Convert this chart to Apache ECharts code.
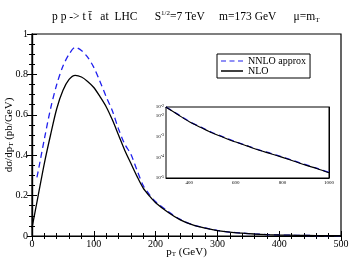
<!DOCTYPE html>
<html><head><meta charset="utf-8">
<script src="https://cdn.jsdelivr.net/npm/echarts@6/dist/echarts.min.js"></script>
<style>html,body{margin:0;padding:0;background:#fff}#c{width:349px;height:262px}</style>
</head><body><div id="c"></div>
<script>
var ptNLO = [0,10,20,30,40,50,60,70,80,90,100,110,120,130,140,150,160,170,180,190,200,220,240,260,280,300,320,340,360,380,400,430,460,500];
var nlo = [0.04,0.2,0.36,0.5,0.63,0.72,0.775,0.795,0.787,0.765,0.735,0.69,0.64,0.575,0.5,0.425,0.36,0.295,0.237,0.198,0.165,0.118,0.08,0.055,0.039,0.027,0.019,0.014,0.01,0.007,0.005,0.003,0.002,0.0012];
var ptNNLO = [8,10,20,30,40,50,60,70,80,90,100,110,120,130,140,150,160,170,180,190,200,220,240,260,280,300,320,340,360,380,400,430,460,500];
var nnlo = [0.29,0.32,0.48,0.63,0.75,0.84,0.9,0.934,0.918,0.885,0.835,0.765,0.69,0.62,0.53,0.455,0.405,0.325,0.25,0.205,0.17,0.122,0.082,0.056,0.04,0.028,0.0195,0.0142,0.0102,0.0072,0.0052,0.0031,0.0021,0.0013];
var ptInset = [300,350,400,450,500,550,600,650,700,750,800,850,900,950,1000];
var nloInset = [0.027,0.012,0.0053,0.0028,0.0015,0.0009,0.00055,0.00035,0.00022,0.00015,0.0001,0.000065,0.000042,0.000028,0.000018];
var nnloInset = [0.0275,0.0124,0.0055,0.0029,0.00156,0.00094,0.00057,0.000365,0.00023,0.000157,0.000104,0.000068,0.000044,0.000029,0.0000187];

function zip(a,b){return a.map(function(v,i){return [v,b[i]];});}
var serif = '"Liberation Serif","DejaVu Serif",serif';
var chart = echarts.init(document.getElementById('c'), null, {renderer:'canvas'});
var tickIn = {inside:true, length:5, lineStyle:{color:'#000',width:1}};
var minorIn = function(n){return {show:true, splitNumber:n, length:3, lineStyle:{color:'#000',width:1}};};
var axLine = {show:true, lineStyle:{color:'#000',width:1.2}};
var rt = {fontFamily:serif,color:'#000',fontWeight:'normal'};
function st(o){var r={};for(var k in rt)r[k]=rt[k];for(var k2 in o)r[k2]=o[k2];return r;}
chart.setOption({
  animation:false,
  backgroundColor:'#fff',
  title:{
    text:'{a|p p -> t t\u0304   at  LHC      S}{sup|1/2}{a|=7 TeV     m=173 GeV      \u03bc=m}{sub|T}',
    left:47, top:5,
    textStyle:{fontWeight:'normal',rich:{
      a:st({fontSize:11.5}),
      sup:st({fontSize:7,verticalAlign:'top',padding:[0,0,7,0]}),
      sub:st({fontSize:7,verticalAlign:'bottom',padding:[5,0,0,0]})
    }}
  },
  legend:{
    left:217, top:54, width:94, orient:'vertical',
    itemWidth:22, itemHeight:1.5, itemGap:0,
    padding:[2,4,2,4],
    borderColor:'#000', borderWidth:1, backgroundColor:'#fff',
    textStyle:st({fontSize:10}),
    data:[
      {name:'NNLO approx',icon:'path://M0,0h5v1h-5zM8.5,0h5v1h-5zM17,0h5v1h-5z'},
      {name:'NLO',icon:'rect'}
    ]
  },
  grid:[
    {left:32,right:8,top:34,bottom:26,show:true,borderColor:'#000',borderWidth:1.2,outerBoundsMode:'none',containLabel:false},
    {left:166,right:20,top:107,height:71,show:true,borderColor:'#000',borderWidth:1,backgroundColor:'#fff',z:5,outerBoundsMode:'none',containLabel:false}
  ],
  xAxis:[
    {gridIndex:0,type:'value',min:0,max:500,interval:100,axisLine:axLine,axisTick:tickIn,minorTick:minorIn(5),splitLine:{show:false},
     axisLabel:st({fontSize:10,margin:3}),
     name:'{a|p}{s|T}{a| (GeV)}',nameLocation:'middle',nameGap:10,nameMoveOverlap:false,
     nameTextStyle:{rich:{a:st({fontSize:11}),s:st({fontSize:7,verticalAlign:'bottom',padding:[5,0,0,0]})}}},
    {gridIndex:0,type:'value',min:0,max:500,interval:100,position:'top',axisLine:axLine,axisTick:tickIn,minorTick:minorIn(5),splitLine:{show:false},axisLabel:{show:false}},
    {gridIndex:1,type:'value',min:300,max:1000,interval:50,axisLine:{show:true,lineStyle:{color:'#000',width:1}},axisTick:{inside:true,length:3,lineStyle:{color:'#000',width:0.8}},splitLine:{show:false},
     axisLabel:st({fontSize:5,margin:2,formatter:function(v){return (v%200===0)?String(v):'';}})},
    {gridIndex:1,type:'value',min:300,max:1000,interval:50,position:'top',axisLine:{show:true,lineStyle:{color:'#000',width:1}},axisTick:{inside:true,length:3,lineStyle:{color:'#000',width:0.8}},splitLine:{show:false},axisLabel:{show:false}}
  ],
  yAxis:[
    {gridIndex:0,type:'value',min:0,max:1,interval:0.2,axisLine:axLine,axisTick:tickIn,minorTick:minorIn(4),splitLine:{show:false},
     axisLabel:st({fontSize:10,margin:4}),
     name:'{a|d\u03c3/dp}{s|T}{a| (pb/GeV)}',nameLocation:'middle',nameGap:17,nameMoveOverlap:false,
     nameTextStyle:{rich:{a:st({fontSize:11}),s:st({fontSize:7,verticalAlign:'bottom',padding:[5,0,0,0]})}}},
    {gridIndex:0,type:'value',min:0,max:1,interval:0.2,position:'right',axisLine:axLine,axisTick:tickIn,minorTick:minorIn(4),splitLine:{show:false},axisLabel:{show:false}},
    {gridIndex:1,type:'log',min:0.00001,max:0.0275,logBase:10,axisLine:{show:true,lineStyle:{color:'#000',width:1}},
     axisTick:{inside:true,length:3,lineStyle:{color:'#000',width:0.8}},minorTick:{show:true,splitNumber:8,length:2,lineStyle:{color:'#000',width:0.6}},splitLine:{show:false},
     axisLabel:{margin:2,formatter:function(v){var e=Math.round(Math.log(v)/Math.LN10);return '{b|10}{e|'+e+'}';},
       rich:{b:st({fontSize:5}),e:st({fontSize:4,verticalAlign:'top',padding:[0,0,3,0]})}}},
    {gridIndex:1,type:'log',min:0.00001,max:0.0275,logBase:10,position:'right',axisLine:{show:true,lineStyle:{color:'#000',width:1}},
     axisTick:{inside:true,length:3,lineStyle:{color:'#000',width:0.8}},minorTick:{show:true,splitNumber:8,length:2,lineStyle:{color:'#000',width:0.6}},splitLine:{show:false},axisLabel:{show:false}}
  ],
  series:[
    {name:'NNLO approx',type:'line',xAxisIndex:0,yAxisIndex:0,data:zip(ptNNLO,nnlo),symbol:'none',smooth:0.3,
     lineStyle:{color:'#2020ee',width:1.3,type:[6,4]},itemStyle:{color:'#2020ee'}},
    {name:'NLO',type:'line',xAxisIndex:0,yAxisIndex:0,data:zip(ptNLO,nlo),symbol:'none',smooth:0.3,
     lineStyle:{color:'#000',width:1.3},itemStyle:{color:'#000'}},
    {name:'NNLO approx',type:'line',xAxisIndex:2,yAxisIndex:2,data:zip(ptInset,nnloInset),symbol:'none',smooth:0.3,z:6,
     lineStyle:{color:'#2020ee',width:1.3,type:[6,4]},itemStyle:{color:'#2020ee'}},
    {name:'NLO',type:'line',xAxisIndex:2,yAxisIndex:2,data:zip(ptInset,nloInset),symbol:'none',smooth:0.3,z:7,
     lineStyle:{color:'#000',width:1.1},itemStyle:{color:'#000'}}
  ]
});
</script></body></html>
